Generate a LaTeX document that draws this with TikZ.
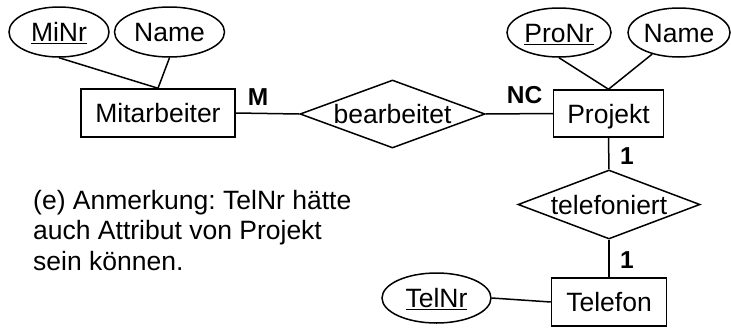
\documentclass[tikz,border=0pt]{standalone}
\usepackage{fontspec}
\setmainfont{Liberation Sans}
\usetikzlibrary{shapes.geometric}
\frenchspacing
\begin{document}
\begin{tikzpicture}[x=1pt,y=-1pt,
  every node/.style={font=\fontsize{26.5}{30.5}\selectfont, inner sep=0pt},
  conn/.style={line width=1.5pt},
  lbl/.style={text height=19.3pt, text depth=0pt},
  entity/.style={draw, line width=1.5pt, rectangle, minimum height=48pt, lbl},
  attr/.style={draw, line width=1.5pt, ellipse, minimum height=50pt, lbl},
  rel/.style={draw, line width=1.5pt, diamond, aspect=2.7, lbl},
  card/.style={font=\fontsize{24.5}{27}\selectfont\bfseries}]
\useasboundingbox (0,0) rectangle (731,327);
% entities
\node[entity, minimum width=154pt] (mit) at (158,113) {Mitarbeiter};
\node[entity, minimum width=110pt, minimum height=47pt] (pro) at (608.5,113.5) {Projekt};
\node[entity, minimum width=115pt] (tel) at (609,302) {Telefon};
% attributes
\node[attr, minimum width=100pt] (minr) at (59,32) {\underline{MiNr}};
\node[attr, minimum width=110pt] (mname) at (169.5,32) {Name};
\node[attr, minimum width=104pt, minimum height=49pt] (pronr) at (559,32.5) {\underline{ProNr}};
\node[attr, minimum width=102pt, minimum height=49pt] (pname) at (679,32.5) {Name};
\node[attr, minimum width=109pt] (telnr) at (436.5,298) {\underline{TelNr}};
% relationships
\node[rel, minimum width=185pt, minimum height=68pt] (bearb) at (392.5,114) {bearbeitet};
\node[rel, minimum width=182pt, minimum height=69pt] (telef) at (609,204.5) {telefoniert};
% connectors
\draw[conn] (minr.south) -- (mit.north);
\draw[conn] (mname.south) -- (mit.north);
\draw[conn] (pronr.south) -- (pro.north);
\draw[conn] (pname) -- (pro.north);
\draw[conn] (mit.east) -- (bearb.west);
\draw[conn] (bearb.east) -- (pro.west);
\draw[conn] (pro.south) -- (telef.north);
\draw[conn] (telef.south) -- (tel.north);
\draw[conn] (telnr.east) -- (tel.west);
% cardinalities
\node[card] (cm) at (258,97.5) {M};
\node[card] (cnc) at (524.5,95.5) {NC};
\node[card] (c1a) at (627,156.5) {1};
\node[card] (c1b) at (627,260) {1};
% remark
\node[anchor=north west, align=left] (note) at (33,189.6) {(e) Anmerkung: TelNr hätte\\auch Attribut von Projekt\\sein können.};
\end{tikzpicture}
\end{document}
